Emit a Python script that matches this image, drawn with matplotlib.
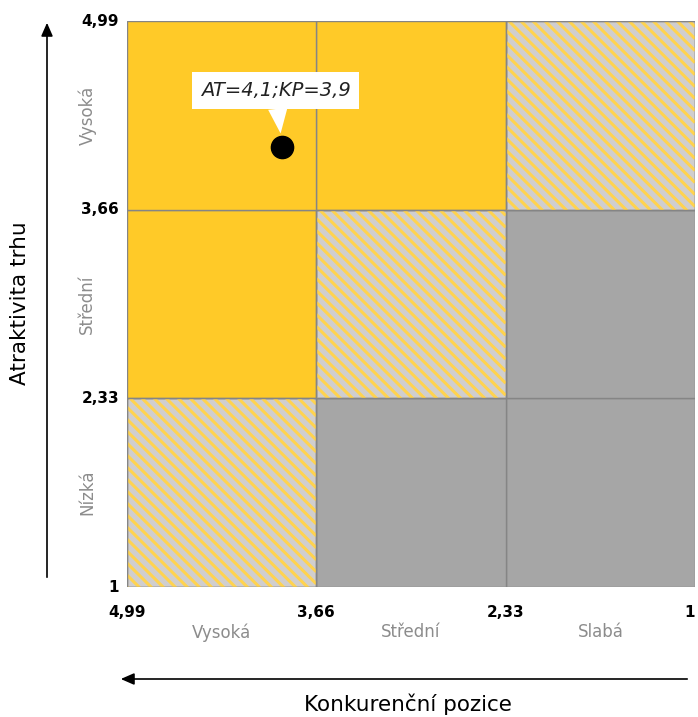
import matplotlib.pyplot as plt
from matplotlib.patches import Rectangle, FancyArrowPatch
import numpy as np

# boundaries of the GE matrix
bounds = [1, 2.33, 3.66, 4.99]
bound_labels = ['1', '2,33', '3,66', '4,99']
x_categories = ['Slabá', 'Střední', 'Vysoká']     # low -> high position
y_categories = ['Nízká', 'Střední', 'Vysoká']     # low -> high attractiveness
# cell type [row (attractiveness low->high)][col (position low->high)]
cells = [['grey', 'grey', 'hatch'],
         ['grey', 'hatch', 'yellow'],
         ['hatch', 'yellow', 'yellow']]
point_at = 4.1
point_kp = 3.9
point_label = 'AT=4,1;KP=3,9'

yellow = '#FFCA28'
grey = '#A6A6A6'
hatch_bg = '#D0CECE'
hatch_fg = '#FFD34F'
edge = '#858585'

fig = plt.figure(figsize=(6.98, 7.17), dpi=100)
ax = fig.add_axes([127/698, 130/717, 568/698, 566/717])
ax.set_xlim(4.99, 1)
ax.set_ylim(1, 4.99)

step = 0.0845
for r in range(3):
    for c in range(3):
        x0, x1 = bounds[c], bounds[c+1]
        y0, y1 = bounds[r], bounds[r+1]
        kind = cells[r][c]
        fc = {'grey': grey, 'yellow': yellow, 'hatch': hatch_bg}[kind]
        rect = Rectangle((x0, y0), x1-x0, y1-y0, fc=fc, ec=edge, lw=1, zorder=1)
        ax.add_patch(rect)
        if kind == 'hatch':
            clip = Rectangle((x0, y0), x1-x0, y1-y0, transform=ax.transData)
            for k in np.arange(y0 - x1 - step, y1 - x0 + step, step):
                xs = np.array([x0, x1])
                ln, = ax.plot(xs, xs + k, color=hatch_fg, lw=2.2, zorder=2,
                              solid_capstyle='butt')
                ln.set_clip_path(clip)
            ax.add_patch(Rectangle((x0, y0), x1-x0, y1-y0, fc='none', ec=edge,
                                   lw=1, zorder=3))

ax.plot([point_kp], [point_at], 'o', color='black', ms=16, zorder=5)
ax.annotate(point_label, xy=(point_kp, point_at), xytext=(point_kp + 0.045, point_at + 0.40),
            ha='center', va='center', fontsize=14, style='italic', color='#222222',
            bbox=dict(boxstyle='square,pad=0.45', fc='white', ec='none'),
            arrowprops=dict(arrowstyle='wedge,tail_width=1.0,shrink_factor=0.5',
                            fc='white', ec='none', shrinkA=0, shrinkB=10),
            zorder=6)

for s in ax.spines.values():
    s.set_visible(False)
ax.set_xticks([])
ax.set_yticks([])

bold = dict(fontsize=11, fontweight='bold', color='black')
for i, (b, lab) in enumerate(zip(bounds, bound_labels)):
    if i == 0:
        ax.text(1.0 - 0.0, -0.045, lab, transform=ax.transAxes, ha='right', va='center', **bold)
    else:
        ax.text(b, -0.045, lab, transform=ax.get_xaxis_transform(), ha='center', va='center', **bold)
    ax.text(-0.014, b, lab, transform=ax.get_yaxis_transform(), ha='right', va='center', **bold)

mids = [(bounds[i] + bounds[i+1]) / 2 for i in range(3)]
for m, lab in zip(mids, x_categories):
    ax.text(m, -0.08, lab, transform=ax.get_xaxis_transform(), ha='center', va='center',
            fontsize=12, color='#8C8C8C')
for m, lab in zip(mids, y_categories):
    ax.text(-0.07, m, lab, transform=ax.get_yaxis_transform(), ha='center', va='center',
            fontsize=12, color='#8C8C8C', rotation=90)

# axis arrows
fig.patches.append(FancyArrowPatch(
    (47/698, 1 - 580/717), (47/698, 1 - 20/717), transform=fig.transFigure,
    arrowstyle='-|>,head_length=8,head_width=3.5', color='black', lw=1.2))
fig.patches.append(FancyArrowPatch(
    (690/698, 1 - 679/717), (118/698, 1 - 679/717), transform=fig.transFigure,
    arrowstyle='-|>,head_length=8,head_width=3.5', color='black', lw=1.2))

fig.text(20/698, 1 - 303/717, 'Atraktivita trhu', rotation=90, ha='center', va='center',
         fontsize=15.5)
fig.text(408/698, 1 - 704/717, 'Konkurenční pozice', ha='center', va='center', fontsize=15.5)

fig.savefig('out.png', dpi=100)
